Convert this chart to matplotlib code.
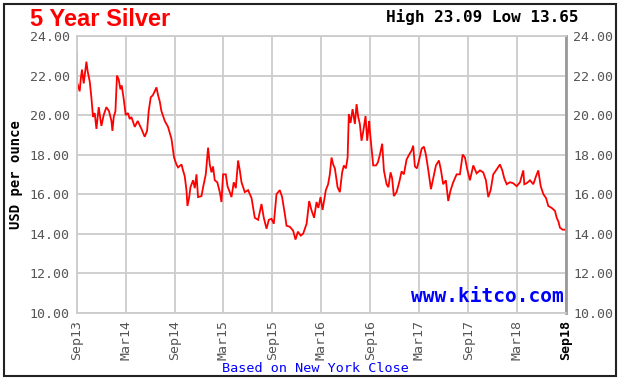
import matplotlib
matplotlib.use("Agg")
import matplotlib.pyplot as plt
from matplotlib.patches import Rectangle

# months since Sep 2013 and silver price (USD/oz)
months = [0.00, 0.06, 0.37, 0.49, 0.65, 0.86, 1.19, 1.35, 1.60, 1.80,
          2.00, 2.21, 2.42, 2.70, 3.03, 3.31, 3.64, 3.96, 4.26, 4.38,
          4.54, 4.75, 4.94, 5.15, 5.36, 5.52, 5.77, 6.01, 6.29, 6.50,
          6.71, 7.12, 7.48, 7.94, 8.34, 8.63, 8.83, 9.08, 9.33, 9.57,
          9.78, 9.98, 10.18, 10.39, 10.80, 11.20, 11.62, 11.94, 12.23, 12.43,
          12.85, 13.04, 13.25, 13.46, 13.58, 13.78, 13.95, 14.27, 14.48, 14.69,
          14.88, 15.30, 15.50, 15.83, 16.11, 16.32, 16.53, 16.72, 16.93, 17.24,
          17.55, 17.75, 17.95, 18.28, 18.49, 18.77, 18.98, 19.26, 19.51, 19.79,
          20.00, 20.21, 20.61, 21.02, 21.44, 21.84, 22.25, 22.66, 22.94, 23.28,
          23.56, 23.89, 24.17, 24.50, 24.91, 25.19, 25.52, 25.73, 26.13, 26.54,
          26.83, 27.12, 27.48, 27.77, 28.19, 28.51, 28.78, 29.11, 29.41, 29.63,
          29.90, 30.15, 30.55, 30.83, 31.04, 31.25, 31.45, 31.66, 31.99, 32.27,
          32.55, 32.76, 33.01, 33.22, 33.37, 33.58, 33.83, 34.11, 34.32, 34.52,
          34.72, 34.93, 35.15, 35.42, 35.62, 35.87, 35.95, 36.07, 36.36, 36.69,
          36.93, 37.18, 37.46, 37.67, 38.00, 38.22, 38.49, 38.68, 38.89, 39.22,
          39.55, 39.84, 40.12, 40.45, 40.77, 41.06, 41.26, 41.47, 41.72, 42.00,
          42.30, 42.58, 42.82, 43.10, 43.44, 43.72, 44.05, 44.42, 44.67, 44.94,
          45.27, 45.56, 45.85, 46.17, 46.59, 46.99, 47.33, 47.61, 47.89, 48.22,
          48.63, 49.04, 49.45, 49.85, 50.18, 50.47, 50.76, 51.08, 51.50, 51.90,
          52.19, 52.43, 52.73, 53.13, 53.53, 53.95, 54.36, 54.76, 54.89, 55.18,
          55.58, 55.99, 56.32, 56.60, 56.90, 57.22, 57.55, 57.83, 58.25, 58.65,
          58.86, 59.08, 59.26, 59.59, 59.88]
prices = [23.08, 21.64, 21.20, 21.80, 22.30, 21.60, 22.70, 22.20, 21.70, 20.90,
          19.90, 20.10, 19.30, 20.40, 19.45, 20.00, 20.40, 20.20, 19.70, 19.20,
          19.90, 20.20, 22.00, 21.80, 21.30, 21.50, 20.80, 20.00, 20.10, 19.80,
          19.90, 19.40, 19.70, 19.30, 18.90, 19.20, 20.20, 20.90, 21.00, 21.20,
          21.40, 21.00, 20.70, 20.20, 19.70, 19.40, 18.80, 17.85, 17.50, 17.35,
          17.50, 17.20, 16.90, 16.20, 15.40, 15.80, 16.35, 16.70, 16.30, 17.00,
          15.85, 15.90, 16.35, 17.00, 18.35, 17.50, 17.10, 17.40, 16.70, 16.60,
          16.10, 15.60, 17.00, 17.00, 16.40, 16.10, 15.85, 16.60, 16.30, 17.70,
          17.20, 16.60, 16.10, 16.20, 15.80, 14.80, 14.70, 15.50, 14.80, 14.25,
          14.70, 14.75, 14.50, 16.00, 16.20, 15.85, 15.00, 14.40, 14.35, 14.15,
          13.70, 14.10, 13.90, 14.00, 14.50, 15.65, 15.20, 14.80, 15.60, 15.30,
          15.85, 15.20, 16.20, 16.50, 17.00, 17.85, 17.50, 17.30, 16.35, 16.10,
          17.10, 17.45, 17.30, 17.85, 20.05, 19.60, 20.30, 19.55, 20.55, 19.90,
          19.55, 18.70, 19.20, 19.95, 18.70, 19.70, 19.20, 18.70, 17.45, 17.45,
          17.60, 18.00, 18.55, 17.20, 16.50, 16.35, 17.10, 16.80, 15.90, 16.10,
          16.60, 17.15, 17.00, 17.75, 18.00, 18.20, 18.45, 17.40, 17.30, 17.75,
          18.30, 18.40, 18.00, 17.25, 16.25, 16.80, 17.45, 17.70, 17.20, 16.50,
          16.70, 15.65, 16.20, 16.60, 17.00, 17.00, 18.00, 17.85, 17.25, 16.70,
          17.45, 17.05, 17.20, 17.10, 16.70, 15.85, 16.20, 17.00, 17.25, 17.50,
          17.20, 16.80, 16.50, 16.60, 16.55, 16.40, 16.60, 17.20, 16.50, 16.55,
          16.70, 16.50, 16.90, 17.20, 16.40, 16.00, 15.80, 15.40, 15.30, 15.15,
          14.80, 14.60, 14.30, 14.20, 14.20]

tick_pos = [0, 6, 12, 18, 24, 30, 36, 42, 48, 54, 60]
tick_labels = ["Sep13", "Mar14", "Sep14", "Mar15", "Sep15", "Mar16",
               "Sep16", "Mar17", "Sep17", "Mar18", "Sep18"]
y_ticks = [10, 12, 14, 16, 18, 20, 22, 24]

mono = "DejaVu Sans Mono"
grid_c = "#cccccc"
label_c = "#555555"

fig = plt.figure(figsize=(6.2, 3.82), dpi=100)
ax = fig.add_axes([0.1237, 0.1814, 0.9129 - 0.1237, 0.9058 - 0.1814])

ax.plot(months, prices, color="#ff0000", lw=1.3, solid_joinstyle="miter")

ax.set_xlim(0, 60)
ax.set_ylim(10, 24)
ax.set_xticks(tick_pos)
ax.set_xticklabels(tick_labels, rotation=90, family=mono, fontsize=9.5, color=label_c)
ax.get_xticklabels()[-1].set_fontweight("bold")
ax.get_xticklabels()[-1].set_color("black")
ax.set_yticks(y_ticks)
ax.set_yticklabels([f"{v:.2f}" for v in y_ticks], family=mono, fontsize=9.5, color=label_c)
ax.tick_params(axis="both", length=0, pad=5)
ax.tick_params(axis="y", labelright=True)
ax.grid(True, color=grid_c, lw=1.3)
ax.set_axisbelow(True)
for side in ["left", "bottom", "top"]:
    ax.spines[side].set_color(grid_c)
    ax.spines[side].set_linewidth(1.3)
ax.spines["right"].set_color("#999999")
ax.spines["right"].set_linewidth(2)

ax.set_ylabel("USD per ounce", family=mono, fontweight="bold", fontsize=10, labelpad=5)

ax.text(0.995, 0.025, "www.kitco.com", transform=ax.transAxes, ha="right", va="bottom",
        family=mono, fontweight="bold", fontsize=14, color="#0000ff")

fig.text(30 / 620, 1 - 19 / 382, "5 Year Silver", ha="left", va="center",
         family="Liberation Sans", fontweight="bold", fontsize=17, color="#ff0000")
fig.text(578 / 620, 1 - 17 / 382, "High 23.09 Low 13.65", ha="right", va="center",
         family=mono, fontweight="bold", fontsize=11.5, color="black")
fig.text(315 / 620, 1 - 369 / 382, "Based on New York Close", ha="center", va="center",
         family=mono, fontsize=9.7, color="#0000ff")

fig.patches.append(Rectangle((4 / 620, 6 / 382), 612 / 620, 372 / 382,
                             transform=fig.transFigure, fill=False,
                             edgecolor="#222222", lw=1.5))

fig.savefig("out.png", dpi=100)
